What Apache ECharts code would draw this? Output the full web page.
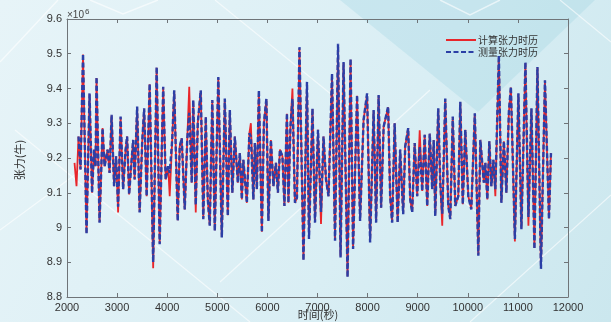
<!DOCTYPE html>
<html><head><meta charset="utf-8">
<script src="https://cdn.jsdelivr.net/npm/echarts@6/dist/echarts.min.js"></script>
<style>html,body{margin:0;padding:0;}#c{width:611px;height:322px;}</style>
</head><body><div id="c"></div>
<script>
// time (s)
const times = [
2150,2190,2230,2270,2320,2390,2450,2500,2540,2570,2590,2650,2710,2750,2810,2850,2890,2940,2980,3020,
3070,3120,3170,3200,3240,3290,3320,3350,3400,3450,3500,3540,3590,3650,3720,3790,3850,3920,3970,4020,
4050,4100,4140,4210,4250,4290,4350,4400,4440,
4490,4520,4570,4610,4670,4720,4770,4810,4850,4900,4950,5020,5090,5150,5210,5250,5300,5350,5410,5450,
5490,5520,5590,5640,5670,5720,5750,5790,5830,5890,5930,5980,6020,6070,6120,6170,6210,6250,6300,6340,
6390,6420,6460,6500,6550,6590,6640,6720,6790,6830,
6900,6950,7010,7070,7120,7170,7220,7290,7350,7410,7460,7520,7600,7660,7710,7790,7850,7920,7990,8050,
8120,8170,8220,8270,8320,8410,8450,8490,8540,8600,8650,8710,8750,8810,8850,8890,8940,8990,9040,9090,
9140,9190,9240,
9290,9320,9350,9410,9450,9490,9550,9610,9650,9700,9750,9810,9850,9900,9950,10010,10070,10140,10210,10250,
10320,10350,10390,10430,10470,10510,10550,10620,10670,10720,10770,10820,10860,10940,11010,11070,11150,11210,11270,11330,
11390,11460,11540,11620,11660
];
// measured tension (x10^6 N)
const measured = [
null,null,9.262,9.167,9.500,8.981,9.386,9.100,9.224,9.176,9.433,9.014,9.286,9.176,9.224,9.157,9.324,9.119,9.205,9.060,
9.319,9.110,9.224,9.262,9.095,9.195,9.252,9.138,9.348,9.043,9.243,9.343,9.090,9.414,8.900,9.462,8.952,9.405,9.138,9.176,
9.157,9.252,9.395,9.019,9.233,9.257,9.052,9.252,9.330,
9.129,9.367,9.065,9.300,9.395,9.024,9.319,9.081,9.005,9.367,8.990,9.433,8.971,9.371,9.033,9.338,9.100,9.262,9.129,9.214,
9.081,9.195,9.071,9.271,9.262,9.081,9.243,9.110,9.395,8.986,9.300,9.371,9.019,9.252,9.119,9.186,9.100,9.224,9.205,9.062,
9.329,9.071,9.290,9.370,9.071,9.086,9.519,8.905,9.419,8.967,
9.343,9.014,9.281,9.045,9.262,9.138,9.090,9.443,8.962,9.529,8.914,9.476,8.857,9.486,8.938,9.381,9.019,9.310,9.386,8.957,
9.338,9.014,9.381,9.057,9.290,9.348,9.090,9.014,9.300,9.014,9.224,9.038,9.233,9.286,9.081,9.043,9.243,9.090,9.233,9.105,
9.267,9.062,9.270,
9.110,9.252,9.033,9.343,9.129,9.040,9.371,9.062,9.024,9.319,9.062,9.090,9.362,9.067,9.281,9.090,9.052,9.329,8.919,9.252,
9.129,9.186,9.081,9.248,9.119,9.195,9.110,9.495,9.071,9.248,9.100,9.333,9.405,8.967,9.386,8.995,9.476,9.030,9.343,8.938,
9.462,8.881,9.424,9.024,9.214
];
// computed tension (x10^6 N)
const computed = [
9.186,9.119,9.262,9.167,9.498,8.985,9.384,9.100,9.224,9.176,9.430,9.016,9.286,9.176,9.224,9.157,9.322,9.119,9.205,9.043,
9.317,9.110,9.224,9.262,9.095,9.195,9.252,9.138,9.346,9.045,9.243,9.341,9.090,9.412,8.883,9.460,8.955,9.403,9.138,9.176,
9.090,9.252,9.393,9.021,9.233,9.257,9.052,9.252,9.405,
9.129,9.365,9.043,9.300,9.393,9.026,9.317,9.081,9.007,9.365,8.992,9.430,8.973,9.369,9.035,9.336,9.100,9.262,9.129,9.214,
9.081,9.195,9.071,9.271,9.300,9.081,9.243,9.110,9.393,8.988,9.300,9.369,9.021,9.252,9.119,9.186,9.100,9.224,9.205,9.062,
9.327,9.071,9.290,9.400,9.071,9.086,9.515,8.908,9.417,8.970,
9.341,9.016,9.281,9.010,9.262,9.138,9.090,9.440,8.965,9.525,8.917,9.473,8.860,9.483,8.940,9.379,9.021,9.310,9.384,8.960,
9.336,9.016,9.379,9.057,9.290,9.346,9.090,9.016,9.300,9.016,9.224,9.040,9.233,9.286,9.081,9.045,9.243,9.090,9.280,9.105,
9.267,9.062,9.270,
9.110,9.252,9.035,9.341,9.129,9.005,9.369,9.062,9.026,9.317,9.062,9.090,9.360,9.067,9.281,9.090,9.054,9.327,8.922,9.252,
9.129,9.186,9.081,9.248,9.119,9.195,9.090,9.492,9.073,9.248,9.100,9.331,9.403,8.960,9.384,8.998,9.473,9.005,9.341,8.941,
9.460,8.884,9.422,9.026,9.214
];
const xTicks = {min: 2000, max: 12000, step: 1000};
const yTicks = {min: 8.8, max: 9.6, step: 0.1};
const seriesNames = ['计算张力时历', '测量张力时历'];

const pair = (ys) => times.map((t, i) => [t, ys[i]]);
const chart = echarts.init(document.getElementById('c'), null, {renderer: 'canvas'});
const axisCommon = {
  axisLine: {show: true, lineStyle: {color: '#6f7478', width: 1}},
  axisTick: {show: true, inside: true, length: 4, lineStyle: {color: '#6f7478'}},
  splitLine: {show: false}
};
const wl = 'rgba(255,255,255,0.6)';
const line = (pts, w) => ({type: 'polyline', silent: true, z: 0, shape: {points: pts}, style: {stroke: wl, lineWidth: w || 1.5, fill: null}});
chart.setOption({
  animation: false,
  backgroundColor: {type: 'linear', x: 0, y: 0, x2: 1, y2: 1, colorStops: [
    {offset: 0, color: '#e7f4f8'}, {offset: 0.6, color: '#d9eef4'}, {offset: 1, color: '#cbe7ee'}]},
  graphic: [
    {type: 'polygon', silent: true, z: 0, shape: {points: [[340, 0], [595, 0], [478, 112]]}, style: {fill: 'rgba(150,208,222,0.28)'}},
    line([[0, 62], [58, 0]]),
    line([[90, 0], [123, 14], [158, 0]]),
    line([[440, 0], [470, 15], [500, 0]]),
    line([[215, 0], [480, 215]], 1.2),
    line([[15, 130], [250, 322]], 1.2),
    line([[0, 230], [95, 160]], 1.2),
    line([[220, 282], [430, 90]], 1.2),
    line([[470, 322], [611, 195]], 1.2),
    line([[560, 0], [611, 42]], 1.2),
    {type: 'text', z: 10, x: 67, y: 8, style: {text: '{a|×10}{b|6}', rich: {a: {fontSize: 10, fill: '#444', fontFamily: 'Liberation Sans'}, b: {fontSize: 8, fill: '#444', fontFamily: 'Liberation Sans', verticalAlign: 'top', padding: [0, 0, 6, 1]}}}},
    {type: 'text', z: 10, x: 20, y: 160, rotation: Math.PI / 2, style: {text: '张力(牛)', fontSize: 11, fill: '#333', fontFamily: 'Noto Sans CJK SC', align: 'center', verticalAlign: 'middle'}},
    {type: 'text', z: 10, x: 318, y: 315, style: {text: '时间(秒)', fontSize: 11, fill: '#333', fontFamily: 'Noto Sans CJK SC', align: 'center', verticalAlign: 'middle'}}
  ],
  grid: {left: 67, right: 43, top: 19, bottom: 25, containLabel: false},
  legend: {
    left: 440, top: 30, orient: 'vertical', itemGap: 2, itemWidth: 30, itemHeight: 9,
    itemStyle: {opacity: 0},
    textStyle: {fontSize: 10, color: '#333', fontFamily: 'Noto Sans CJK SC', padding: [0, 0, 0, -3]},
    data: seriesNames
  },
  xAxis: [
    Object.assign({type: 'value', position: 'bottom', min: xTicks.min, max: xTicks.max, interval: xTicks.step,
      axisLabel: {color: '#333', fontSize: 11, fontFamily: 'Liberation Sans', margin: 5, formatter: v => String(v)}}, axisCommon),
    Object.assign({type: 'value', position: 'top', min: xTicks.min, max: xTicks.max, interval: xTicks.step,
      axisLabel: {show: false}}, axisCommon)
  ],
  yAxis: [
    Object.assign({type: 'value', position: 'left', min: yTicks.min, max: yTicks.max, interval: yTicks.step,
      axisLabel: {color: '#333', fontSize: 11, fontFamily: 'Liberation Sans', margin: 5, formatter: v => String(+v.toFixed(1))}}, axisCommon),
    Object.assign({type: 'value', position: 'right', min: yTicks.min, max: yTicks.max, interval: yTicks.step,
      axisLabel: {show: false}}, axisCommon)
  ],
  series: [
    {name: seriesNames[0], type: 'line', data: pair(computed), showSymbol: false, symbol: 'none', z: 3,
      lineStyle: {color: '#e8262b', width: 1.8}, itemStyle: {color: '#e8262b'}},
    {name: seriesNames[1], type: 'line', data: pair(measured), showSymbol: false, symbol: 'none', z: 4,
      lineStyle: {color: '#2b3fa6', width: 2.4, type: [5, 2.5]}, itemStyle: {color: '#2b3fa6'}}
  ]
});
</script>
</body></html>
